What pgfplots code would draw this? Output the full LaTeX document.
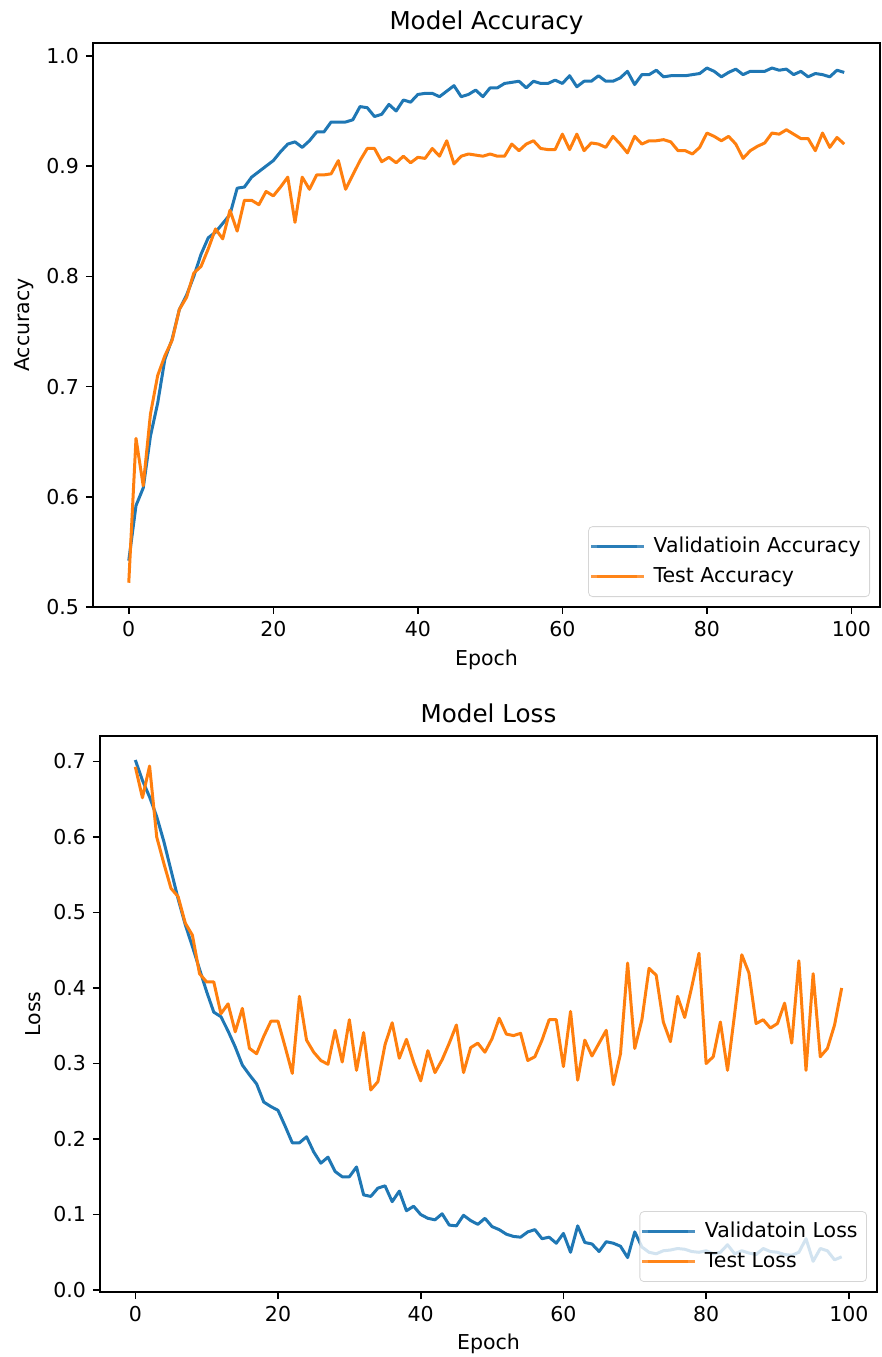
\documentclass[border=0pt]{standalone}
\usepackage{fontspec}
\setmainfont{DejaVu Sans}
\usepackage{pgfplots}
\usepackage{pgfplotstable}
\pgfplotsset{compat=1.18}
\definecolor{mblue}{HTML}{1F77B4}
\definecolor{morange}{HTML}{FF7F0E}

\pgfplotstableread{
e va ta
0 0.542 0.522
1 0.592 0.653
2 0.608 0.610
3 0.655 0.675
4 0.685 0.710
5 0.725 0.728
6 0.743 0.742
7 0.770 0.770
8 0.783 0.781
9 0.800 0.803
10 0.820 0.809
11 0.835 0.825
12 0.840 0.843
13 0.848 0.834
14 0.856 0.860
15 0.880 0.841
16 0.881 0.869
17 0.890 0.869
18 0.895 0.865
19 0.900 0.877
20 0.905 0.873
21 0.913 0.881
22 0.920 0.890
23 0.922 0.849
24 0.917 0.890
25 0.923 0.879
26 0.931 0.892
27 0.931 0.892
28 0.940 0.893
29 0.940 0.905
30 0.940 0.879
31 0.942 0.892
32 0.954 0.905
33 0.953 0.916
34 0.945 0.916
35 0.947 0.904
36 0.956 0.908
37 0.950 0.903
38 0.960 0.909
39 0.958 0.903
40 0.965 0.908
41 0.966 0.907
42 0.966 0.916
43 0.963 0.909
44 0.968 0.923
45 0.973 0.902
46 0.963 0.909
47 0.965 0.911
48 0.969 0.910
49 0.963 0.909
50 0.971 0.911
51 0.971 0.909
52 0.975 0.909
53 0.976 0.920
54 0.977 0.914
55 0.971 0.920
56 0.977 0.923
57 0.975 0.916
58 0.975 0.915
59 0.978 0.915
60 0.975 0.929
61 0.982 0.915
62 0.972 0.929
63 0.977 0.914
64 0.977 0.921
65 0.982 0.920
66 0.977 0.917
67 0.977 0.927
68 0.980 0.920
69 0.986 0.912
70 0.974 0.927
71 0.983 0.920
72 0.983 0.923
73 0.987 0.923
74 0.981 0.924
75 0.982 0.922
76 0.982 0.914
77 0.982 0.914
78 0.983 0.911
79 0.984 0.917
80 0.989 0.930
81 0.986 0.927
82 0.981 0.923
83 0.985 0.927
84 0.988 0.920
85 0.983 0.907
86 0.986 0.914
87 0.986 0.918
88 0.986 0.921
89 0.989 0.930
90 0.987 0.929
91 0.988 0.933
92 0.983 0.929
93 0.986 0.925
94 0.981 0.925
95 0.984 0.914
96 0.983 0.930
97 0.981 0.917
98 0.987 0.926
99 0.985 0.920
}\acctable

\pgfplotstableread{
e vl tl
0 0.702 0.693
1 0.675 0.652
2 0.653 0.694
3 0.627 0.600
4 0.594 0.565
5 0.556 0.532
6 0.518 0.521
7 0.484 0.486
8 0.455 0.470
9 0.425 0.419
10 0.395 0.408
11 0.368 0.408
12 0.362 0.366
13 0.343 0.379
14 0.322 0.342
15 0.298 0.373
16 0.285 0.320
17 0.273 0.313
18 0.249 0.336
19 0.243 0.356
20 0.238 0.356
21 0.217 0.322
22 0.195 0.287
23 0.195 0.389
24 0.203 0.331
25 0.183 0.315
26 0.168 0.304
27 0.176 0.299
28 0.157 0.344
29 0.150 0.302
30 0.150 0.358
31 0.163 0.291
32 0.126 0.341
33 0.124 0.265
34 0.135 0.276
35 0.138 0.325
36 0.117 0.354
37 0.131 0.307
38 0.105 0.332
39 0.111 0.302
40 0.100 0.277
41 0.095 0.317
42 0.093 0.288
43 0.101 0.305
44 0.086 0.327
45 0.085 0.351
46 0.099 0.288
47 0.092 0.321
48 0.087 0.327
49 0.095 0.315
50 0.084 0.333
51 0.080 0.360
52 0.074 0.339
53 0.071 0.337
54 0.070 0.340
55 0.077 0.304
56 0.080 0.309
57 0.068 0.331
58 0.070 0.358
59 0.062 0.358
60 0.075 0.296
61 0.050 0.369
62 0.085 0.278
63 0.063 0.331
64 0.061 0.310
65 0.051 0.327
66 0.064 0.344
67 0.062 0.272
68 0.058 0.313
69 0.043 0.433
70 0.077 0.320
71 0.057 0.358
72 0.050 0.426
73 0.048 0.417
74 0.052 0.355
75 0.053 0.329
76 0.055 0.389
77 0.054 0.361
78 0.051 0.402
79 0.050 0.446
80 0.052 0.300
81 0.048 0.309
82 0.050 0.355
83 0.060 0.291
84 0.048 0.366
85 0.052 0.444
86 0.049 0.420
87 0.047 0.353
88 0.055 0.358
89 0.051 0.347
90 0.050 0.353
91 0.047 0.380
92 0.046 0.327
93 0.050 0.436
94 0.068 0.291
95 0.038 0.419
96 0.055 0.309
97 0.052 0.320
98 0.040 0.351
99 0.044 0.400
}\losstable

\pgfplotsset{
  mystyle/.style={
    scale only axis,
    axis line style={black, line width=0.8pt},
    tick style={black, line width=0.8pt},
    tick align=outside,
    major tick length=3.5pt,
    xtick pos=bottom, ytick pos=left,
    xmin=-4.95, xmax=103.95,
    xtick={0,20,40,60,80,100},
    font=\fontsize{10.25}{12}\selectfont,
    ticklabel style={font=\fontsize{10.25}{12}\selectfont},
    /pgf/number format/assume math mode=true,
    yticklabel style={/pgf/number format/.cd, fixed, fixed zerofill, precision=1},
    label style={font=\fontsize{10.25}{12}\selectfont},
    title style={font=\fontsize{12.3}{14}\selectfont, anchor=base, yshift=0pt},
    every axis plot/.append style={line width=1.5pt, line join=round},
    legend cell align=left,
    legend image code/.code={\path (0pt,0pt) -- (26.5pt,0pt); \draw[#1] (3pt,0pt) -- (23pt,0pt);},
    legend style={
      font=\fontsize{10.25}{12}\selectfont,
      anchor=south east,
      fill=white, fill opacity=0.8, draw=black!20, draw opacity=0.8,
      text opacity=1, rounded corners=2pt,
      inner xsep=0.5pt, inner ysep=2.5pt,
      nodes={inner xsep=4pt, inner ysep=2.25pt, text height=8pt, text depth=2.5pt},
    },
  }
}

\begin{document}
\begin{tikzpicture}
\path[use as bounding box] (0pt,0pt) rectangle (441pt,678.5pt);
% top axis
\begin{axis}[mystyle,
  at={(46.5pt,375pt)}, anchor=south west,
  width=393.5pt, height=282pt,
  ymin=0.5, ymax=1.0117,
  ytick={0.5,0.6,0.7,0.8,0.9,1.0},
  title={Model Accuracy},
  title style={at={(axis description cs:0.5,1.0026)}},
  xlabel={Epoch},
  xlabel style={at={(axis description cs:0.5,-0.1040)}, anchor=base},
  ylabel={Accuracy},
  ylabel style={at={(axis description cs:-0.0813,0.5)}, anchor=base},
  legend style={at={(axis description cs:0.9873,0.0177)}},
]
\addplot[mblue] table[x=e, y=va] {\acctable};
\addlegendentry{Validatioin Accuracy}
\addplot[morange] table[x=e, y=ta] {\acctable};
\addlegendentry{Test Accuracy}
\end{axis}
% bottom axis
\begin{axis}[mystyle,
  at={(50pt,32.5pt)}, anchor=south west,
  width=388.5pt, height=278pt,
  ymin=-0.0026, ymax=0.7338,
  ytick={0,0.1,0.2,0.3,0.4,0.5,0.6,0.7},
  title={Model Loss},
  title style={at={(axis description cs:0.5,1.0027)}},
  xlabel={Epoch},
  xlabel style={at={(axis description cs:0.5,-0.1043)}, anchor=base},
  ylabel={Loss},
  ylabel style={at={(axis description cs:-0.0772,0.5)}, anchor=base},
  legend style={at={(axis description cs:0.9871,0.018)}},
]
\addplot[mblue] table[x=e, y=vl] {\losstable};
\addlegendentry{Validatoin Loss}
\addplot[morange] table[x=e, y=tl] {\losstable};
\addlegendentry{Test Loss}
\end{axis}
\end{tikzpicture}
\end{document}
